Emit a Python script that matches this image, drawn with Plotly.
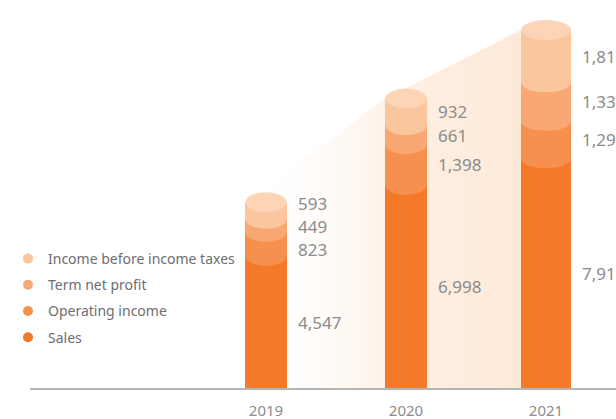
import plotly.graph_objects as go

# ---- data -------------------------------------------------------------
years = ["2019", "2020", "2021"]
sales = [4547, 6998, 7910]
operating_income = [823, 1398, 1294]
term_net_profit = [449, 661, 1330]
income_before_tax = [593, 932, 1816]

series_names = ["Sales", "Operating income", "Term net profit", "Income before income taxes"]
series_values = [sales, operating_income, term_net_profit, income_before_tax]

# ---- style ------------------------------------------------------------
SEG_COLORS = ["#F47A2A", "#F6904E", "#F9A873", "#FBC59D"]
CAP_COLOR = "#FDD4B5"
LABEL_COLOR = "#8c8c8c"
FONT = "Noto Sans"
BAR_W = [0.293, 0.293, 0.357]   # bar widths in axis units
RY = 9.5                          # cylinder ellipse half-height, px
LABEL_GAP = 23                    # minimum vertical spacing of value labels, px
W, H = 616, 419
PLOT_L, M_B = 30, 31
PX_PER_UNIT_X = 140.0
FIRST_BAR_PX = 266
VAL_PER_PX = 34.5

x_pos = list(range(len(years)))
x_range = [(PLOT_L - FIRST_BAR_PX) / PX_PER_UNIT_X, (W - FIRST_BAR_PX) / PX_PER_UNIT_X]
plot_h = H - M_B
y_range = [0, plot_h * VAL_PER_PX]


def spread(centres, gap, rounds=50):
    """Push label centres (px, bottom to top) apart symmetrically."""
    pos = list(centres)
    for _ in range(rounds):
        moved = False
        for j in range(1, len(pos)):
            d = pos[j] - pos[j - 1]
            if d < gap - 1e-6:
                shift = (gap - d) / 2
                pos[j - 1] -= shift
                pos[j] += shift
                moved = True
        if not moved:
            break
    return pos


fig = go.Figure()

totals = [sum(v[i] for v in series_values) for i in x_pos]
left_edge = [x - w / 2 for x, w in zip(x_pos, BAR_W)]

# soft backdrop linking the bar tops (base axes, beneath the bars)
bands = [("rgba(255,255,255,0)", "#FEF2E8"), ("#FEF1E5", "#FDE9D8")]
for k in range(len(x_pos) - 1):
    xa, xb = left_edge[k], left_edge[k + 1]
    fig.add_trace(go.Scatter(
        x=[xa, xa, xb, xb, xa], y=[0, totals[k], totals[k + 1], 0, 0],
        mode="lines", line=dict(width=0), fill="toself",
        fillgradient=dict(type="horizontal",
                          colorscale=[[0, bands[k][0]], [1, bands[k][1]]]),
        hoverinfo="skip", showlegend=False, xaxis="x", yaxis="y"))

# stacked cylinder bodies (overlay axes so they sit above the backdrop)
for name, vals, col in zip(series_names, series_values, SEG_COLORS):
    fig.add_trace(go.Bar(
        x=x_pos, y=vals, width=BAR_W, marker=dict(color=col, line=dict(width=0)),
        name=name, showlegend=False, xaxis="x2", yaxis="y2", hoverinfo="skip"))

# legend entries with round markers, top item first
for name, col in reversed(list(zip(series_names, SEG_COLORS))):
    fig.add_trace(go.Scatter(
        x=[None], y=[None], mode="markers", name=name, legendgroup=name,
        marker=dict(symbol="circle", size=10, color=col), xaxis="x", yaxis="y"))

shapes = []
annotations = []
for i in x_pos:
    cum = 0
    mids = []
    for s, (vals, col) in enumerate(zip(series_values, SEG_COLORS)):
        base = cum
        cum += vals[i]
        mids.append((base + cum) / 2)
        if s > 0:
            # curved seam: lower half of an ellipse in the upper segment colour
            shapes.append(dict(
                type="circle", xref="x2", yref="y2",
                x0=i - BAR_W[i] / 2, x1=i + BAR_W[i] / 2,
                ysizemode="pixel", yanchor=base, y0=-RY, y1=RY,
                fillcolor=col, line=dict(width=0), layer="above"))
    # top cap
    shapes.append(dict(
        type="circle", xref="x2", yref="y2",
        x0=i - BAR_W[i] / 2, x1=i + BAR_W[i] / 2,
        ysizemode="pixel", yanchor=cum, y0=-RY - 0.5, y1=RY + 0.5,
        fillcolor=CAP_COLOR, line=dict(width=0), layer="above"))

    # value labels beside each segment, spread so they never collide
    mid_px = [m / VAL_PER_PX for m in mids]
    lab_px = spread(mid_px, LABEL_GAP)
    for vals, m, mp, lp in zip(series_values, mids, mid_px, lab_px):
        annotations.append(dict(
            x=i + BAR_W[i] / 2, y=m, xref="x2", yref="y2",
            text=f"{vals[i]:,}", showarrow=False, xanchor="left", yanchor="middle",
            xshift=9, yshift=lp - mp,
            font=dict(family=FONT, size=17, color=LABEL_COLOR)))

fig.update_layout(
    width=W, height=H,
    margin=dict(l=0, r=0, t=0, b=M_B),
    paper_bgcolor="white", plot_bgcolor="rgba(0,0,0,0)",
    barmode="stack", bargap=0,
    shapes=shapes, annotations=annotations,
    font=dict(family=FONT),
    showlegend=True,
    legend=dict(
        xref="paper", yref="paper", x=8 / W, y=1 - 243 / plot_h,
        xanchor="left", yanchor="top", bgcolor="rgba(0,0,0,0)",
        font=dict(family=FONT, size=14, color="#6e6e6e"),
        tracegroupgap=5, itemclick=False, itemdoubleclick=False),
    xaxis=dict(domain=[PLOT_L / W, 1], range=x_range, tickmode="array",
               tickvals=x_pos, ticktext=years,
               showgrid=False, zeroline=False, showline=True,
               linecolor="#b4b4b4", linewidth=1.5, ticks="", ticklabelstandoff=8,
               tickfont=dict(family=FONT, size=15, color=LABEL_COLOR)),
    yaxis=dict(range=y_range, visible=False),
    xaxis2=dict(range=x_range, overlaying="x", visible=False),
    yaxis2=dict(range=y_range, overlaying="y", visible=False),
)

fig.write_html("out.html")
